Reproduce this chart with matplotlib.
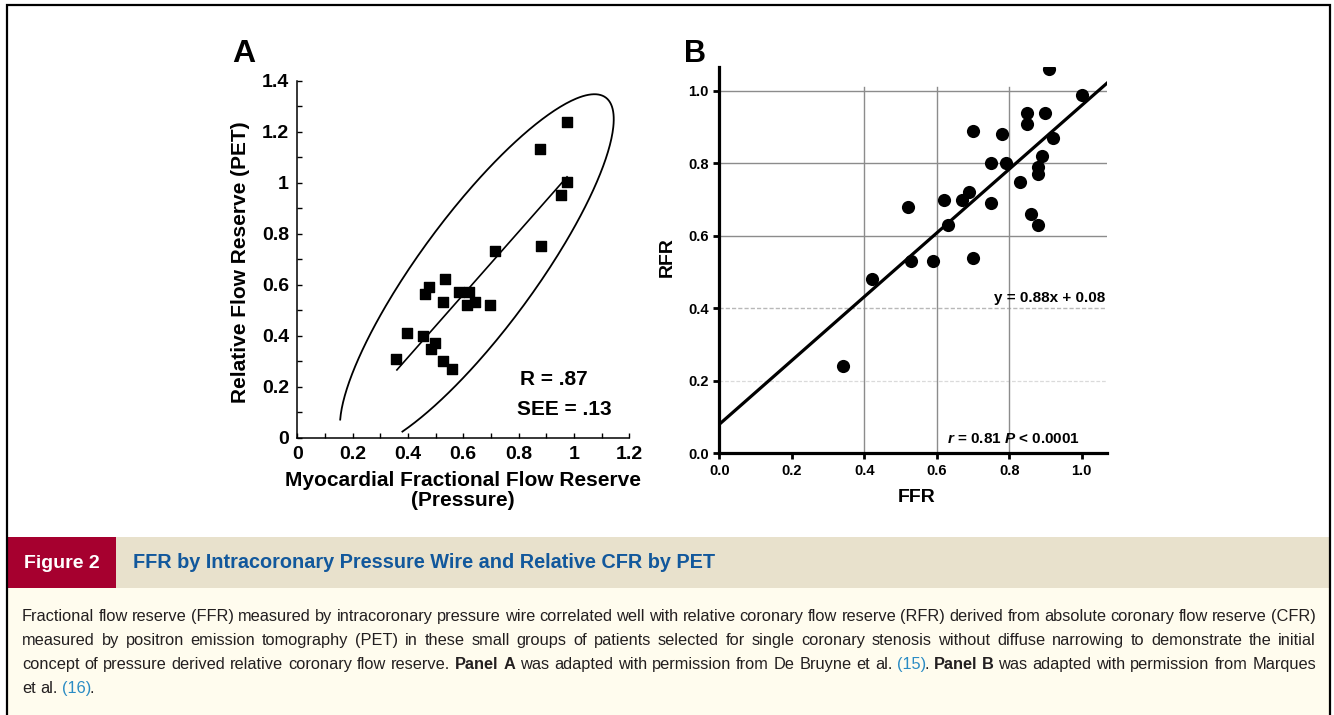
import numpy as np
import matplotlib
matplotlib.use("Agg")
import matplotlib.pyplot as plt
from matplotlib.patches import Rectangle
from matplotlib.ticker import MultipleLocator, FuncFormatter

plt.rcParams['font.family'] = ['Liberation Sans', 'DejaVu Sans']
plt.rcParams['mathtext.fontset'] = 'custom'
plt.rcParams['mathtext.rm'] = 'Liberation Sans:bold'
plt.rcParams['mathtext.it'] = 'Liberation Sans:italic:bold'

# Panel A (De Bruyne et al.) - FFR by pressure vs relative flow reserve by PET
ffr_a = [0.976, 0.877, 0.976, 0.952, 0.882, 0.713, 0.535, 0.475, 0.463, 0.586, 0.622,
         0.525, 0.614, 0.643, 0.696, 0.398, 0.455, 0.498, 0.484, 0.357, 0.528, 0.559]
rfr_a = [1.237, 1.132, 1.004, 0.953, 0.754, 0.731, 0.623, 0.590, 0.564, 0.571, 0.571,
         0.532, 0.522, 0.532, 0.522, 0.410, 0.401, 0.371, 0.349, 0.310, 0.303, 0.270]
fit_a = (1.23, -0.176)          # slope, intercept
fit_a_x = (0.36, 0.975)
stats_a = ['R = .87', 'SEE = .13']
# confidence ellipse: centre, half width, half height, shear, open arc (deg)
ell_center = (0.649, 0.65)
ell_half_w = 0.253
ell_half_h = 0.697
ell_shear = 0.61
ell_arc = (-63.7, 236.0)

# Panel B (Marques et al.) - FFR vs RFR
ffr_b = [0.91, 1.00, 0.85, 0.90, 0.85, 0.92, 0.70, 0.78, 0.89, 0.75, 0.79, 0.88, 0.88, 0.83,
         0.69, 0.67, 0.62, 0.75, 0.52, 0.63, 0.86, 0.88, 0.70, 0.53, 0.59, 0.42, 0.34]
rfr_b = [1.06, 0.99, 0.94, 0.94, 0.91, 0.87, 0.89, 0.88, 0.82, 0.80, 0.80, 0.79, 0.77, 0.75,
         0.72, 0.70, 0.70, 0.69, 0.68, 0.63, 0.66, 0.63, 0.54, 0.53, 0.53, 0.48, 0.24]
fit_b = (0.88, 0.08)
fit_b_x = (0.0, 1.07)

fig_label = 'Figure 2'
fig_title = 'FFR by Intracoronary Pressure Wire and Relative CFR by PET'
# * toggles bold, [ ] marks a blue reference
caption = [
    "Fractional flow reserve (FFR) measured by intracoronary pressure wire correlated well with relative coronary flow reserve (RFR) derived from absolute coronary flow reserve (CFR)",
    "measured by positron emission tomography (PET) in these small groups of patients selected for single coronary stenosis without diffuse narrowing to demonstrate the initial",
    "concept of pressure derived relative coronary flow reserve. *Panel A* was adapted with permission from De Bruyne et al. [(15)]. *Panel B* was adapted with permission from Marques",
    "et al. [(16)].",
]

RED = '#a6002f'
BEIGE = '#e8e1cc'
CREAM = '#fffcee'
TITLE_BLUE = '#12589c'
LINK_BLUE = '#2b8cc4'
TXT = '#231f20'

fig = plt.figure(figsize=(13.34, 7.15), dpi=100)
bg = fig.add_axes([0, 0, 1, 1])
bg.set_xlim(0, 1334)
bg.set_ylim(715, 0)
bg.axis('off')

# frame and caption boxes
bg.add_patch(Rectangle((8, 537), 1321, 51, color=BEIGE, lw=0))
bg.add_patch(Rectangle((8, 537), 108, 51, color=RED, lw=0))
bg.add_patch(Rectangle((8, 588), 1321, 130, color=CREAM, lw=0))
bg.plot([7, 7, 1330, 1330], [716, 5, 5, 716], color='black', lw=1.6, solid_joinstyle='miter')

bg.text(62, 563, fig_label, color='white', fontsize=14, fontweight='bold', ha='center', va='center')
bg.text(133, 563, fig_title, color=TITLE_BLUE, fontsize=14.3, fontweight='bold', ha='left', va='center')

# caption with justified lines
fig.canvas.draw()
renderer = fig.canvas.get_renderer()
cap_size = 11.8
def parse(line):
    words, cur, bold, blue = [], [], False, False
    buf = ''
    for ch in line:
        if ch in '*[] ':
            if buf:
                cur.append((buf, bold, blue))
                buf = ''
            if ch == '*':
                bold = not bold
            elif ch == '[':
                blue = True
            elif ch == ']':
                blue = False
            else:
                if cur:
                    words.append(cur)
                cur = []
        else:
            buf += ch
    if buf:
        cur.append((buf, bold, blue))
    if cur:
        words.append(cur)
    return words

x_left, x_right = 22, 1316
for i, line in enumerate(caption):
    y = 621 + 24 * i
    words = parse(line)
    placed = []
    widths = []
    for w in words:
        runs = []
        wsum = 0
        for txt, b, bl in w:
            t = bg.text(0, y, txt, fontsize=cap_size, fontweight='bold' if b else 'normal',
                        color=LINK_BLUE if bl else TXT, ha='left', va='baseline')
            ww = t.get_window_extent(renderer).width
            runs.append((t, wsum))
            wsum += ww - 2
        placed.append(runs)
        widths.append(wsum + 2)
    if i < len(caption) - 1:
        gap = (x_right - x_left - sum(widths)) / (len(words) - 1)
    else:
        gap = cap_size * 1.39 * 0.278
    x = x_left
    for runs, ww in zip(placed, widths):
        for t, off in runs:
            t.set_x(x + off)
        x += ww + gap

# ---------------- Panel A ----------------
axA = fig.add_axes([297.3 / 1334, 1 - 438 / 715, 332 / 1334, 357.3 / 715])
axA.set_facecolor('none')
axA.set_xlim(0, 1.2)
axA.set_ylim(0, 1.4)
for s in ['top', 'right']:
    axA.spines[s].set_visible(False)
for s in ['left', 'bottom']:
    axA.spines[s].set_linewidth(1.1)
axA.xaxis.set_major_locator(MultipleLocator(0.2))
axA.yaxis.set_major_locator(MultipleLocator(0.2))
axA.xaxis.set_minor_locator(MultipleLocator(0.1))
axA.yaxis.set_minor_locator(MultipleLocator(0.1))
fmtA = FuncFormatter(lambda v, p: f'{v:g}')
axA.xaxis.set_major_formatter(fmtA)
axA.yaxis.set_major_formatter(fmtA)
axA.tick_params(which='both', direction='in', length=3.5, width=1.0, labelsize=14, pad=6)
for lab in axA.get_xticklabels() + axA.get_yticklabels():
    lab.set_fontweight('bold')

t = np.radians(np.linspace(ell_arc[0], ell_arc[1], 300))
ey = ell_center[1] + ell_half_h * np.sin(t)
ex = ell_center[0] + ell_shear * (ey - ell_center[1]) + ell_half_w * np.cos(t)
axA.plot(ex, ey, color='black', lw=1.3, clip_on=False)
xa = np.array(fit_a_x)
axA.plot(xa, fit_a[0] * xa + fit_a[1], color='black', lw=1.2)
axA.scatter(ffr_a, rfr_a, marker='s', s=55, color='black', zorder=3, clip_on=False)
axA.text(0.805, 0.208, stats_a[0], fontsize=15, fontweight='bold', ha='left', va='baseline')
axA.text(0.794, 0.092, stats_a[1], fontsize=15, fontweight='bold', ha='left', va='baseline')

bg.text(232, 62, 'A', fontsize=23, fontweight='bold', ha='left', va='baseline')
bg.text(240, 262, 'Relative Flow Reserve (PET)', fontsize=15, fontweight='bold', rotation=90,
        ha='center', va='center')
bg.text(463, 480, 'Myocardial Fractional Flow Reserve', fontsize=15, fontweight='bold',
        ha='center', va='center')
bg.text(463, 501, '(Pressure)', fontsize=15, fontweight='bold', ha='center', va='center')

# ---------------- Panel B ----------------
sc = 362.4
axB = fig.add_axes([719.3 / 1334, 1 - 453.3 / 715, 1.07 * sc / 1334, 1.067 * sc / 715])
axB.set_facecolor('none')
axB.set_xlim(0, 1.07)
axB.set_ylim(0, 1.067)
for s in ['top', 'right']:
    axB.spines[s].set_visible(False)
for s in ['left', 'bottom']:
    axB.spines[s].set_linewidth(2.3)
ticksB = [0.0, 0.2, 0.4, 0.6, 0.8, 1.0]
axB.set_xticks(ticksB)
axB.set_yticks(ticksB)
axB.set_xticklabels([f'{v:.1f}' for v in ticksB])
axB.set_yticklabels([f'{v:.1f}' for v in ticksB])
axB.tick_params(direction='out', length=4.5, width=2, labelsize=10.5, pad=3)
for lab in axB.get_xticklabels() + axB.get_yticklabels():
    lab.set_fontweight('bold')

for v in [0.6, 0.8, 1.0]:
    axB.axhline(v, color='#8c8c8c', lw=1.0, zorder=0)
axB.axhline(0.4, color='#b8b8b8', lw=1.0, ls=(0, (3, 1.5)), zorder=0)
axB.axhline(0.2, color='#dadada', lw=0.9, ls=(0, (3, 1.5)), zorder=0)
for v in [0.4, 0.6, 0.8]:
    axB.axvline(v, ymax=1.01 / 1.067, color='#8c8c8c', lw=1.0, zorder=0)

xb = np.array(fit_b_x)
axB.plot(xb, fit_b[0] * xb + fit_b[1], color='black', lw=2.3, zorder=2)
axB.scatter(ffr_b, rfr_b, s=90, color='black', zorder=3, linewidths=0)
axB.text(1.065, 0.418, 'y = 0.88x + 0.08', fontsize=11, fontweight='bold', ha='right', va='baseline')
axB.text(0.627, 0.028, r'$\mathit{r}$ = 0.81 $\mathit{P}$ < 0.0001', fontsize=11, fontweight='bold',
         ha='left', va='baseline')

bg.text(684, 62, 'B', fontsize=22, fontweight='bold', ha='left', va='baseline')
bg.text(667, 257, 'RFR', fontsize=14, fontweight='bold', rotation=90, ha='center', va='center')
bg.text(917, 498, 'FFR', fontsize=14, fontweight='bold', ha='center', va='center')

fig.savefig('out.png', dpi=100)
